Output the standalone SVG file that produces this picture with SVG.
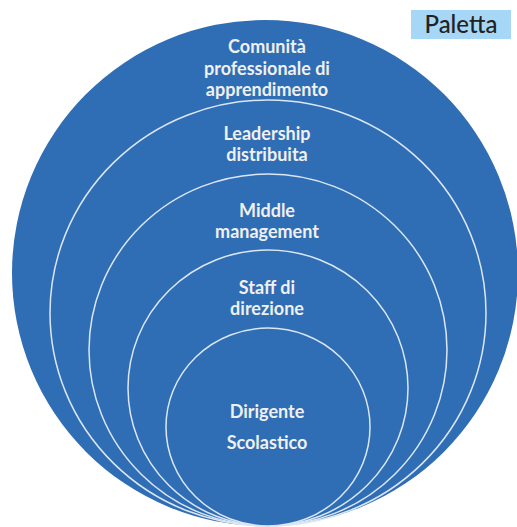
<svg xmlns="http://www.w3.org/2000/svg" width="517" height="527" viewBox="0 0 517 527">
  <style>
    .ring { fill: #2f6db5; stroke: #dbe7f4; stroke-width: 1.5; }
    .outer { fill: #2f6db5; stroke: none; }
    .lbl { font-family: Lato, "Open Sans", sans-serif; font-weight: 700; font-size: 18px; fill: #f0f0f0; text-anchor: middle; }
    .pal { font-family: Lato, "Open Sans", sans-serif; font-weight: 500; font-size: 24px; fill: #222222; text-anchor: middle; }
  </style>
  <rect width="517" height="527" fill="#ffffff"/>
  <g id="comunita">
    <ellipse class="outer" cx="265" cy="273" rx="253" ry="253"/>
    <text class="lbl" x="267" y="53">Comunità</text>
    <text class="lbl" x="267" y="75">professionale di</text>
    <text class="lbl" x="267" y="96">apprendimento</text>
  </g>
  <g id="leadership">
    <ellipse class="ring" cx="268" cy="313" rx="218" ry="213"/>
    <text class="lbl" x="267" y="140">Leadership</text>
    <text class="lbl" x="267" y="161">distribuita</text>
  </g>
  <g id="middle">
    <ellipse class="ring" cx="268" cy="350" rx="179" ry="176"/>
    <text class="lbl" x="267" y="217">Middle</text>
    <text class="lbl" x="267" y="238">management</text>
  </g>
  <g id="staff">
    <ellipse class="ring" cx="268" cy="388" rx="140" ry="138"/>
    <text class="lbl" x="267" y="294">Staff di</text>
    <text class="lbl" x="267" y="315">direzione</text>
  </g>
  <g id="dirigente">
    <ellipse class="ring" cx="268" cy="427" rx="102" ry="99"/>
    <text class="lbl" x="267" y="418">Dirigente</text>
    <text class="lbl" x="267" y="449">Scolastico</text>
  </g>
  <g id="connectors"/>
  <g id="paletta">
    <rect x="411" y="10" width="100" height="29" fill="#a6d7f7"/>
    <text class="pal" x="461" y="33">Paletta</text>
  </g>
</svg>
